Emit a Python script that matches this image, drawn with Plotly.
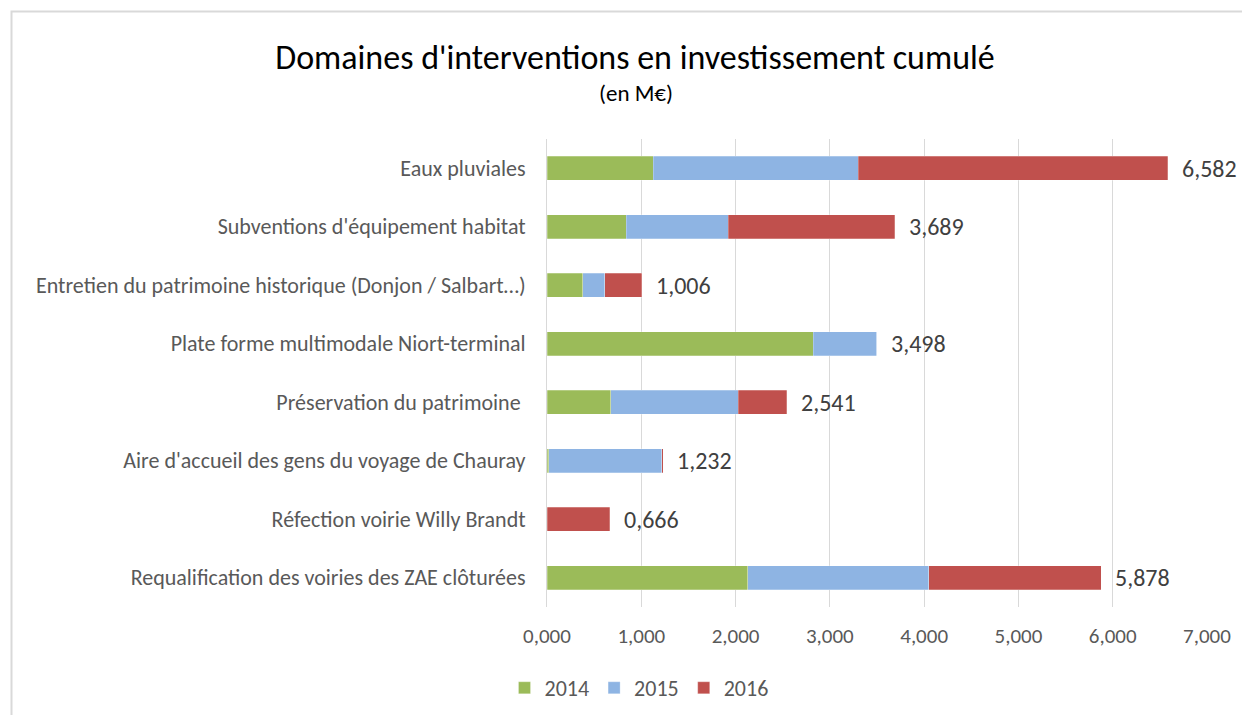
import plotly.graph_objects as go

categories = [
    "Eaux pluviales",
    "Subventions d'équipement habitat",
    "Entretien du patrimoine historique (Donjon / Salbart…)",
    "Plate forme multimodale Niort-terminal",
    "Préservation du patrimoine ",
    "Aire d'accueil des gens du voyage de Chauray",
    "Réfection voirie Willy Brandt",
    "Requalification des voiries des ZAE clôturées",
]
v2014 = [1.127, 0.839, 0.380, 2.825, 0.675, 0.020, 0.0, 2.128]
v2015 = [2.176, 1.085, 0.231, 0.673, 1.355, 1.197, 0.0, 1.920]
v2016 = [3.279, 1.765, 0.395, 0.0, 0.511, 0.015, 0.666, 1.830]
totals = [6.582, 3.689, 1.006, 3.498, 2.541, 1.232, 0.666, 5.878]
series_names = ["2014", "2015", "2016"]
colors = ["#9BBB59", "#8EB4E3", "#C0504D"]

FONT = "Carlito, Calibri, Lato, sans-serif"

# the page body adds an 8px offset; the figure is sized to fill the rest
W, H = 1242, 707
L, R, T, B = 539, 43, 131, 108
PW, PH = W - L - R, H - T - B

fig = go.Figure()
for name, vals, col in zip(series_names, [v2014, v2015, v2016], colors):
    fig.add_trace(go.Bar(
        y=categories, x=vals, name=name, orientation="h",
        marker=dict(color=col, line=dict(color="rgba(255,255,255,0.5)", width=0.5)),
        hoverinfo="x+name",
    ))

annotations = []
for cat, t in zip(categories, totals):
    annotations.append(dict(
        x=t, y=cat, xref="x", yref="y", text=f"{t:.3f}".replace(".", ","),
        showarrow=False, xanchor="left", yanchor="middle", xshift=12,
        font=dict(family=FONT, size=24, color="#404040"),
    ))
annotations.append(dict(
    text="(en M€)", xref="paper", yref="paper",
    x=(628 - L) / PW, y=(H - B - 85) / PH,
    xanchor="center", yanchor="middle", showarrow=False,
    font=dict(family=FONT, size=23, color="#000000"),
))

fig.update_layout(
    width=W, height=H,
    barmode="stack", bargap=0.59,
    separators=", ",
    paper_bgcolor="white", plot_bgcolor="white",
    margin=dict(l=L, r=R, t=T, b=B),
    font=dict(family=FONT, color="#595959", size=22),
    title=dict(
        text="Domaines d'interventions en investissement cumulé",
        x=627 / W, xref="container", xanchor="center",
        y=1 - 49 / H, yref="container", yanchor="middle",
        font=dict(family=FONT, size=34, color="#000000"),
    ),
    annotations=annotations,
    legend=dict(
        orientation="h", xref="container", yref="container",
        x=631 / W, y=1 - 680 / H, xanchor="center", yanchor="middle",
        font=dict(family=FONT, size=22, color="#595959"),
        traceorder="normal",
    ),
    xaxis=dict(
        range=[0, 7], dtick=1, tick0=0, tickformat=".3f",
        showgrid=True, gridcolor="#D9D9D9", gridwidth=1,
        zeroline=False, showline=False, ticks="", ticklabelstandoff=14,
        tickfont=dict(family=FONT, size=21, color="#595959"),
    ),
    yaxis=dict(
        autorange="reversed", showgrid=False,
        showline=True, linecolor="#D9D9D9", linewidth=1,
        ticks="", ticklabelstandoff=16,
        tickfont=dict(family=FONT, size=22, color="#595959"),
    ),
    shapes=[dict(
        type="rect", xref="paper", yref="paper",
        x0=(3.5 - L) / PW, x1=(1270 - L) / PW,
        y0=(H - B - 740) / PH, y1=(H - B - 3.5) / PH,
        line=dict(color="#D9D9D9", width=2), fillcolor="rgba(0,0,0,0)",
        layer="below",
    )],
)

fig.write_html("out.html")
